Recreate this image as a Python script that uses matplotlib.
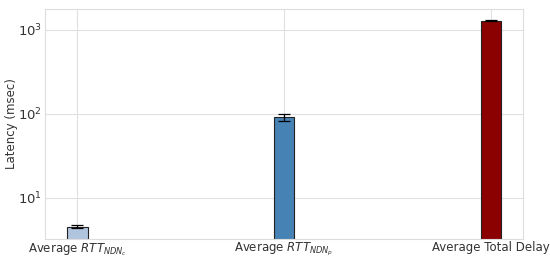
import matplotlib
matplotlib.use("Agg")
import matplotlib.pyplot as plt
import numpy as np

labels = [r"Average $RTT_{NDN_c}$", r"Average $RTT_{NDN_p}$", "Average Total Delay"]
means = [4.55, 91.5, 1290.0]
errors = [0.15, 8.0, 15.0]
colors = ["#b0c4de", "#4682b4", "#8b0000"]

plt.style.use("seaborn-v0_8-whitegrid")
plt.rcParams["font.family"] = ["DejaVu Sans"]
plt.rcParams["mathtext.fontset"] = "dejavusans"
fig, ax = plt.subplots(figsize=(5.5, 2.62), dpi=100)
x = np.arange(len(labels))
ax.bar(x, means, width=0.1, yerr=errors, color=colors, edgecolor="#222222",
       linewidth=0.8, capsize=4, error_kw={"elinewidth": 0.9, "capthick": 0.9})
ax.set_yscale("log")
ax.set_ylim(3.25, 1780)
ax.set_xticks(x)
ax.set_xticklabels(labels, fontsize=8.5, color="#333333")
ax.tick_params(axis="y", labelsize=9.5, labelcolor="#333333", pad=2)
ax.tick_params(axis="x", pad=1.5)
ax.set_ylabel("Latency (msec)", fontsize=8.5, color="#333333", labelpad=0)
for s in ax.spines.values():
    s.set_visible(True)
    s.set_color("#dddddd")
    s.set_linewidth(0.8)
ax.grid(True, which="major", color="#e0e0e0", linewidth=0.8)
ax.grid(False, which="minor")
fig.subplots_adjust(left=0.082, right=0.951, top=0.966, bottom=0.088)
fig.savefig("out.png", dpi=100)
